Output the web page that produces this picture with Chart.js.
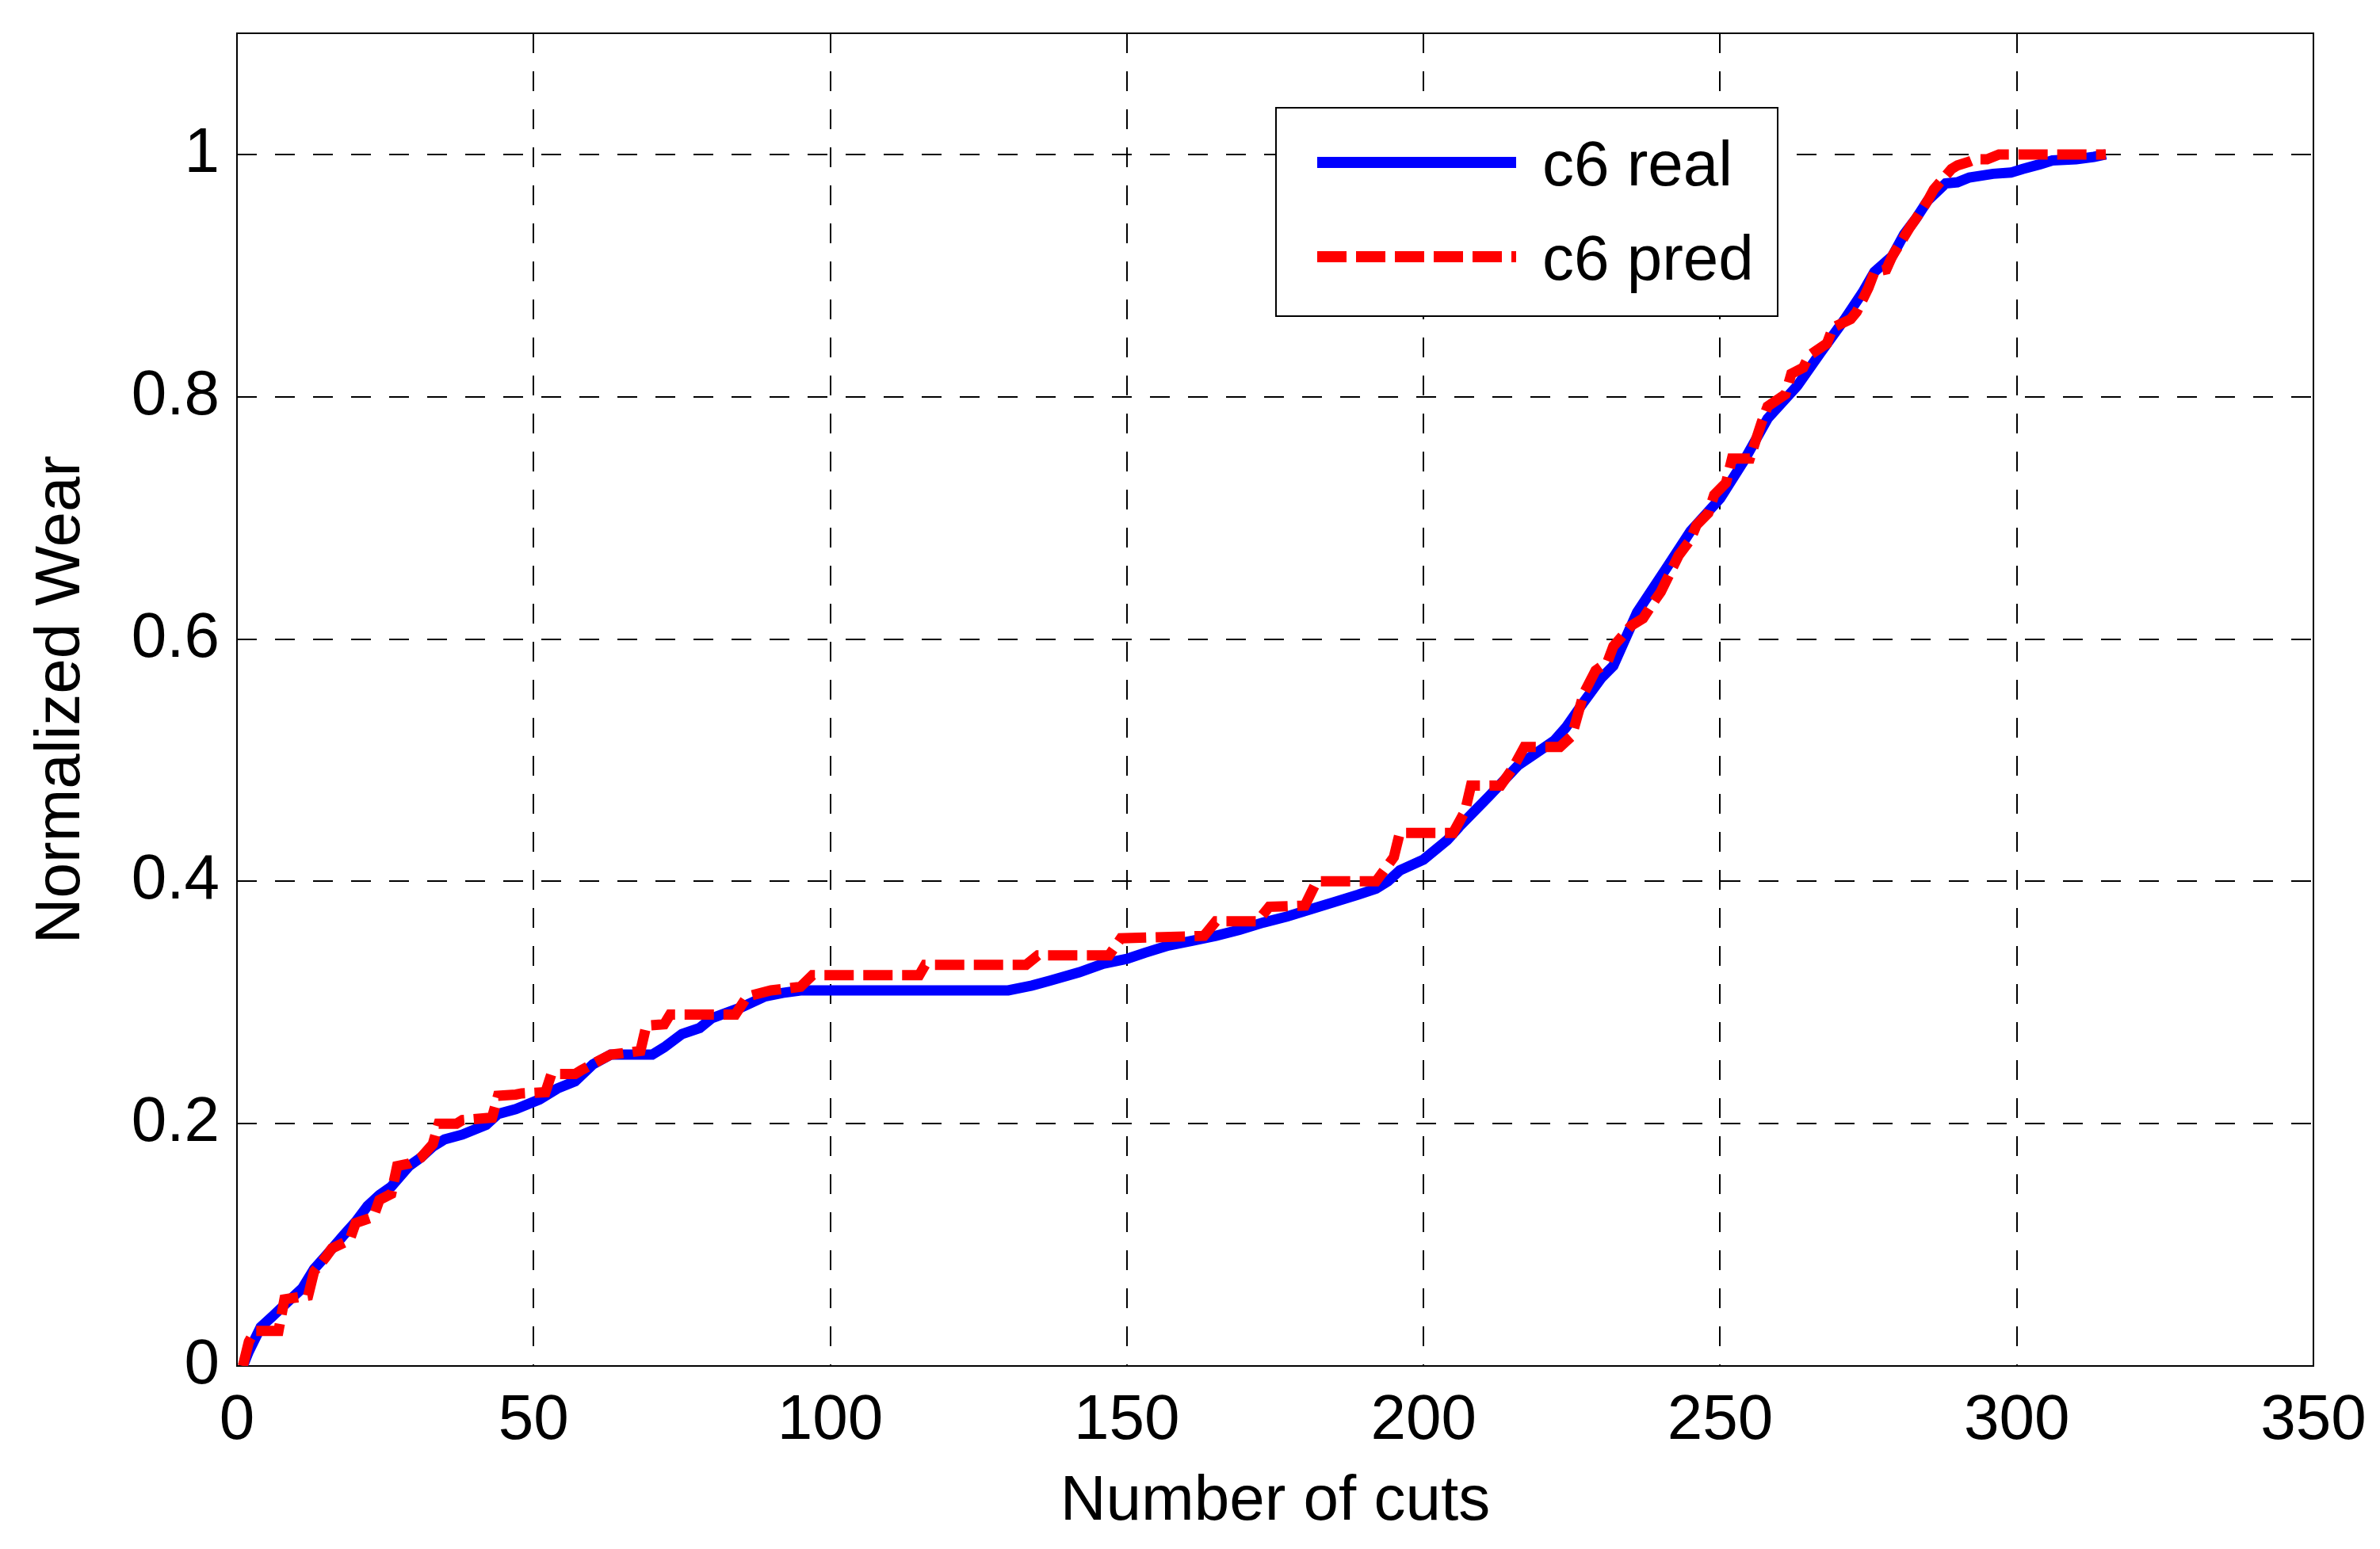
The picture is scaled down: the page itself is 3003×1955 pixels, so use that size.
<!DOCTYPE html>
<html>
<head>
<meta charset="utf-8">
<title>Normalized Wear</title>
<script src="https://cdn.jsdelivr.net/npm/chart.js@4.4.0/dist/chart.umd.min.js"></script>
<style>
  html, body { margin: 0; padding: 0; background: #fff; }
  #wrap { width: 3003px; height: 1955px; }
</style>
</head>
<body>
<div id="wrap"><canvas id="wear-chart"></canvas></div>
<script>
// values
const realCuts = [1, 2, 4, 6, 9, 11, 13, 15, 18, 20, 22, 24, 26, 29, 31, 33, 35, 38, 40, 42, 44, 47, 51, 54, 57, 60, 63, 70, 72, 75, 78, 80, 85, 89, 92, 95,
    130, 134, 137, 142, 146, 150, 153, 157, 161, 165, 169, 173, 177, 181, 185, 189, 192, 194, 196, 200, 204, 206, 211, 216, 219, 222, 224, 227, 230, 232,
    236, 241, 245, 250, 254, 258, 263, 267, 271, 274, 276, 279, 281, 283, 285, 288, 290, 292, 296, 299, 301, 304, 306, 310, 313, 315];
const realWear = [0, 0.012, 0.032, 0.041, 0.055, 0.064, 0.08, 0.091, 0.108, 0.119, 0.132, 0.141, 0.148, 0.165, 0.172, 0.181, 0.187, 0.191, 0.195, 0.199, 0.208, 0.212, 0.22, 0.229, 0.235, 0.249, 0.257, 0.257, 0.263, 0.274, 0.279, 0.287, 0.296, 0.305, 0.308, 0.31,
    0.31, 0.314, 0.318, 0.325, 0.332, 0.336, 0.341, 0.347, 0.351, 0.355, 0.36, 0.366, 0.371, 0.377, 0.383, 0.389, 0.394, 0.4, 0.409, 0.418, 0.434, 0.445, 0.47, 0.496, 0.506, 0.516, 0.527, 0.548, 0.568, 0.578,
    0.622, 0.659, 0.689, 0.716, 0.747, 0.782, 0.809, 0.837, 0.864, 0.886, 0.903, 0.916, 0.934, 0.947, 0.962, 0.976, 0.977, 0.981, 0.984, 0.985, 0.988, 0.992, 0.995, 0.996, 0.998, 1.0];

const predCuts = [1, 2, 3, 7, 8, 12, 13, 15, 16, 19, 20, 23, 24, 26, 27, 29, 31, 33, 34, 37, 38, 43, 44, 47, 48, 52, 53, 57, 58, 61, 63, 68, 69, 72, 73, 84, 86, 90, 95,
    97, 115, 116, 133, 135, 147, 149, 163, 165, 172, 174, 180, 182, 192, 195, 196, 205, 207, 208, 213, 215, 217, 223, 225, 227, 229, 231, 232, 235, 237, 239,
    240, 242, 243, 245, 246, 248, 249, 251, 252, 255, 256, 257, 258, 261, 262, 264, 265, 268, 269, 272, 273, 275, 276, 278, 279, 282, 283, 285, 286, 289,
    290, 292, 293, 295, 297, 315];
const predWear = [0, 0.02, 0.029, 0.029, 0.055, 0.058, 0.078, 0.09, 0.097, 0.104, 0.118, 0.123, 0.137, 0.142, 0.165, 0.167, 0.172, 0.183, 0.2, 0.2, 0.203, 0.205, 0.223, 0.224, 0.225, 0.226, 0.241, 0.241, 0.244, 0.252, 0.257, 0.26, 0.281, 0.282, 0.29, 0.29, 0.305, 0.31, 0.313,
    0.3225, 0.3225, 0.331, 0.331, 0.339, 0.339, 0.353, 0.355, 0.367, 0.367, 0.379, 0.38, 0.4, 0.4, 0.42, 0.44, 0.44, 0.458, 0.479, 0.479, 0.493, 0.511, 0.511, 0.52, 0.555, 0.574, 0.581, 0.594, 0.611, 0.617, 0.632,
    0.639, 0.659, 0.669, 0.682, 0.694, 0.704, 0.719, 0.729, 0.749, 0.749, 0.764, 0.779, 0.792, 0.802, 0.819, 0.824, 0.834, 0.844, 0.857, 0.864, 0.87, 0.89, 0.903, 0.905, 0.916, 0.94, 0.947, 0.962, 0.971, 0.988,
    0.991, 0.994, 0.996, 0.996, 1.0, 1.0];

const xTicks = [0, 50, 100, 150, 200, 250, 300, 350];
const yTicks = [0, 0.2, 0.4, 0.6, 0.8, 1];
const seriesLabels = ['c6 real', 'c6 pred'];

const FONT = '"Liberation Sans", Arial, sans-serif';
const PRED_DASH = [37, 12];

function toPoints(xs, ys) {
    return xs.map((x, i) => ({ x: x, y: ys[i] }));
}

// black box around the axes (MATLAB style)
const axesBox = {
    id: 'axesBox',
    beforeDatasetsDraw(chart) {
        const a = chart.chartArea;
        const ctx = chart.ctx;
        ctx.save();
        ctx.strokeStyle = '#000';
        ctx.lineWidth = 2;
        ctx.setLineDash([]);
        ctx.strokeRect(a.left, a.top, a.right - a.left, a.bottom - a.top);
        ctx.restore();
    }
};

// legend drawn as a framed box in the upper middle
const boxLegend = {
    id: 'boxLegend',
    afterDatasetsDraw(chart) {
        const ctx = chart.ctx;
        const bx = 1610, by = 136, bw = 633, bh = 263;
        ctx.save();
        ctx.fillStyle = '#fff';
        ctx.fillRect(bx, by, bw, bh);
        ctx.strokeStyle = '#000';
        ctx.lineWidth = 2;
        ctx.setLineDash([]);
        ctx.strokeRect(bx, by, bw, bh);

        const rows = [205, 324];
        chart.data.datasets.forEach((ds, i) => {
            ctx.strokeStyle = ds.borderColor;
            ctx.lineWidth = 14;
            ctx.lineCap = 'butt';
            ctx.setLineDash(ds.borderDash || []);
            ctx.beginPath();
            ctx.moveTo(1662, rows[i]);
            ctx.lineTo(1913, rows[i]);
            ctx.stroke();
            ctx.setLineDash([]);
            ctx.fillStyle = '#000';
            ctx.font = '80px ' + FONT;
            ctx.textBaseline = 'alphabetic';
            ctx.fillText(ds.label, 1946, rows[i] + 29);
        });
        ctx.restore();
    }
};

const ctx = document.getElementById('wear-chart').getContext('2d');
new Chart(ctx, {
    type: 'line',
    data: {
        datasets: [
            {
                label: seriesLabels[0],
                data: toPoints(realCuts, realWear),
                borderColor: '#0000ff',
                borderWidth: 13,
                pointRadius: 0,
                tension: 0,
                order: 2
            },
            {
                label: seriesLabels[1],
                data: toPoints(predCuts, predWear),
                borderColor: '#ff0000',
                borderWidth: 13,
                borderDash: PRED_DASH,
                borderCapStyle: 'butt',
                pointRadius: 0,
                tension: 0,
                order: 1
            }
        ]
    },
    options: {
        responsive: true,
        maintainAspectRatio: false,
        animation: false,
        layout: { padding: { top: 42, right: 84, bottom: 0, left: 0 } },
        plugins: {
            legend: { display: false },
            tooltip: { enabled: false }
        },
        scales: {
            x: {
                type: 'linear',
                min: 0,
                max: 350,
                afterBuildTicks: scale => { scale.ticks = xTicks.map(v => ({ value: v })); },
                afterFit: scale => {
                    scale.height = 231;
                    scale.paddingLeft = 0;
                    scale.paddingRight = 0;
                },
                ticks: {
                    color: '#000',
                    font: { family: FONT, size: 80 },
                    padding: 22,
                    maxRotation: 0,
                    callback: v => String(v)
                },
                grid: { color: '#000', lineWidth: 2, drawTicks: false },
                border: { display: false, dash: [25, 23] },
                title: {
                    display: true,
                    text: 'Number of cuts',
                    color: '#000',
                    font: { family: FONT, size: 80 },
                    padding: { top: 0, bottom: 11 }
                }
            },
            y: {
                min: 0,
                max: 1.1,
                afterBuildTicks: scale => { scale.ticks = yTicks.map(v => ({ value: v })); },
                afterFit: scale => {
                    scale.width = 299;
                    scale.paddingTop = 0;
                    scale.paddingBottom = 0;
                },
                ticks: {
                    color: '#000',
                    font: { family: FONT, size: 80 },
                    padding: 22,
                    callback: v => String(Number(v.toFixed(2)))
                },
                grid: { color: '#000', lineWidth: 2, drawTicks: false },
                border: { display: false, dash: [25, 23] },
                title: {
                    display: true,
                    text: 'Normalized Wear',
                    color: '#000',
                    font: { family: FONT, size: 80 },
                    padding: { top: 30, bottom: 30 }
                }
            }
        }
    },
    plugins: [axesBox, boxLegend]
});
</script>
</body>
</html>
